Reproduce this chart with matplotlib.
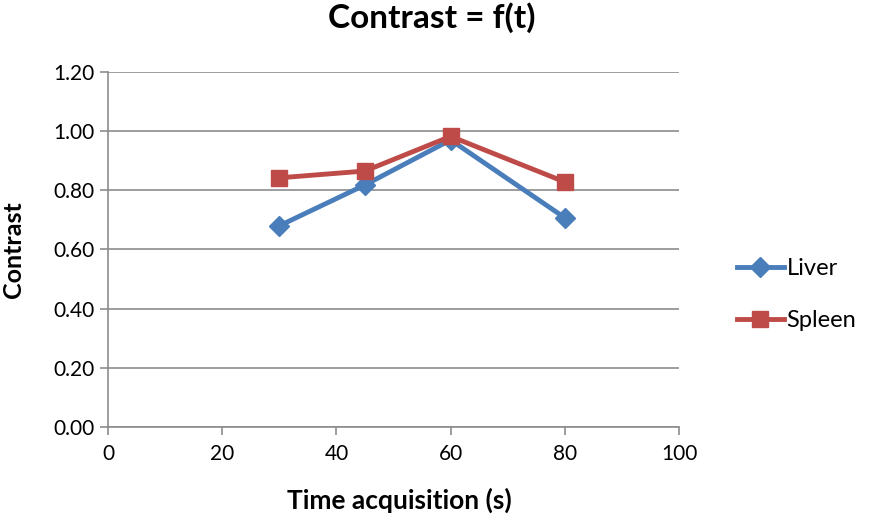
import matplotlib
matplotlib.use("Agg")
import matplotlib.pyplot as plt

time_s = [30, 45, 60, 80]
liver = [0.68, 0.818, 0.97, 0.707]
spleen = [0.842, 0.865, 0.982, 0.828]
x_ticks = [0, 20, 40, 60, 80, 100]
y_ticks = [0.0, 0.2, 0.4, 0.6, 0.8, 1.0, 1.2]

plt.rcParams['font.family'] = ['Lato', 'DejaVu Sans']

fig = plt.figure(figsize=(8.71, 5.17), dpi=100)
ax = fig.add_axes([0.124, 0.174, 0.7796 - 0.124, 0.861 - 0.174])

ax.plot(time_s, liver, color='#4a7ebb', lw=3.5, marker='D', ms=10, label='Liver', zorder=3)
ax.plot(time_s, spleen, color='#be4b48', lw=3.5, marker='s', ms=12, label='Spleen', zorder=3)

ax.set_xlim(0, 100)
ax.set_ylim(0, 1.2)
ax.set_xticks(x_ticks)
ax.set_yticks(y_ticks)
ax.set_yticklabels([f"{v:.2f}" for v in y_ticks])
ax.grid(axis='y', color='#8c8c8c', lw=1.2)
ax.set_axisbelow(True)
for s in ['top', 'right']:
    ax.spines[s].set_visible(False)
for s in ['left', 'bottom']:
    ax.spines[s].set_color('#8c8c8c')
    ax.spines[s].set_linewidth(1.2)
ax.tick_params(axis='both', colors='#8c8c8c', labelcolor='black', labelsize=15, length=6, width=1.2)
ax.tick_params(axis='x', pad=6)

fig.text(0.4586, 1 - 500 / 517, 'Time acquisition (s)', fontsize=19, fontweight='bold', ha='center', va='center')
fig.text(14 / 871, 1 - 250 / 517, 'Contrast', fontsize=18, fontweight='bold', ha='center', va='center', rotation=90)
fig.text(432 / 871, 1 - 18 / 517, 'Contrast = f(t)', fontsize=24, fontweight='bold', ha='center', va='center')

fig.legend(loc='center left', bbox_to_anchor=(0.846, 0.43), frameon=False, fontsize=17,
           handlelength=2.0, handletextpad=0.1, labelspacing=1.3, borderaxespad=0, borderpad=0)

fig.savefig('out.png', dpi=100)
